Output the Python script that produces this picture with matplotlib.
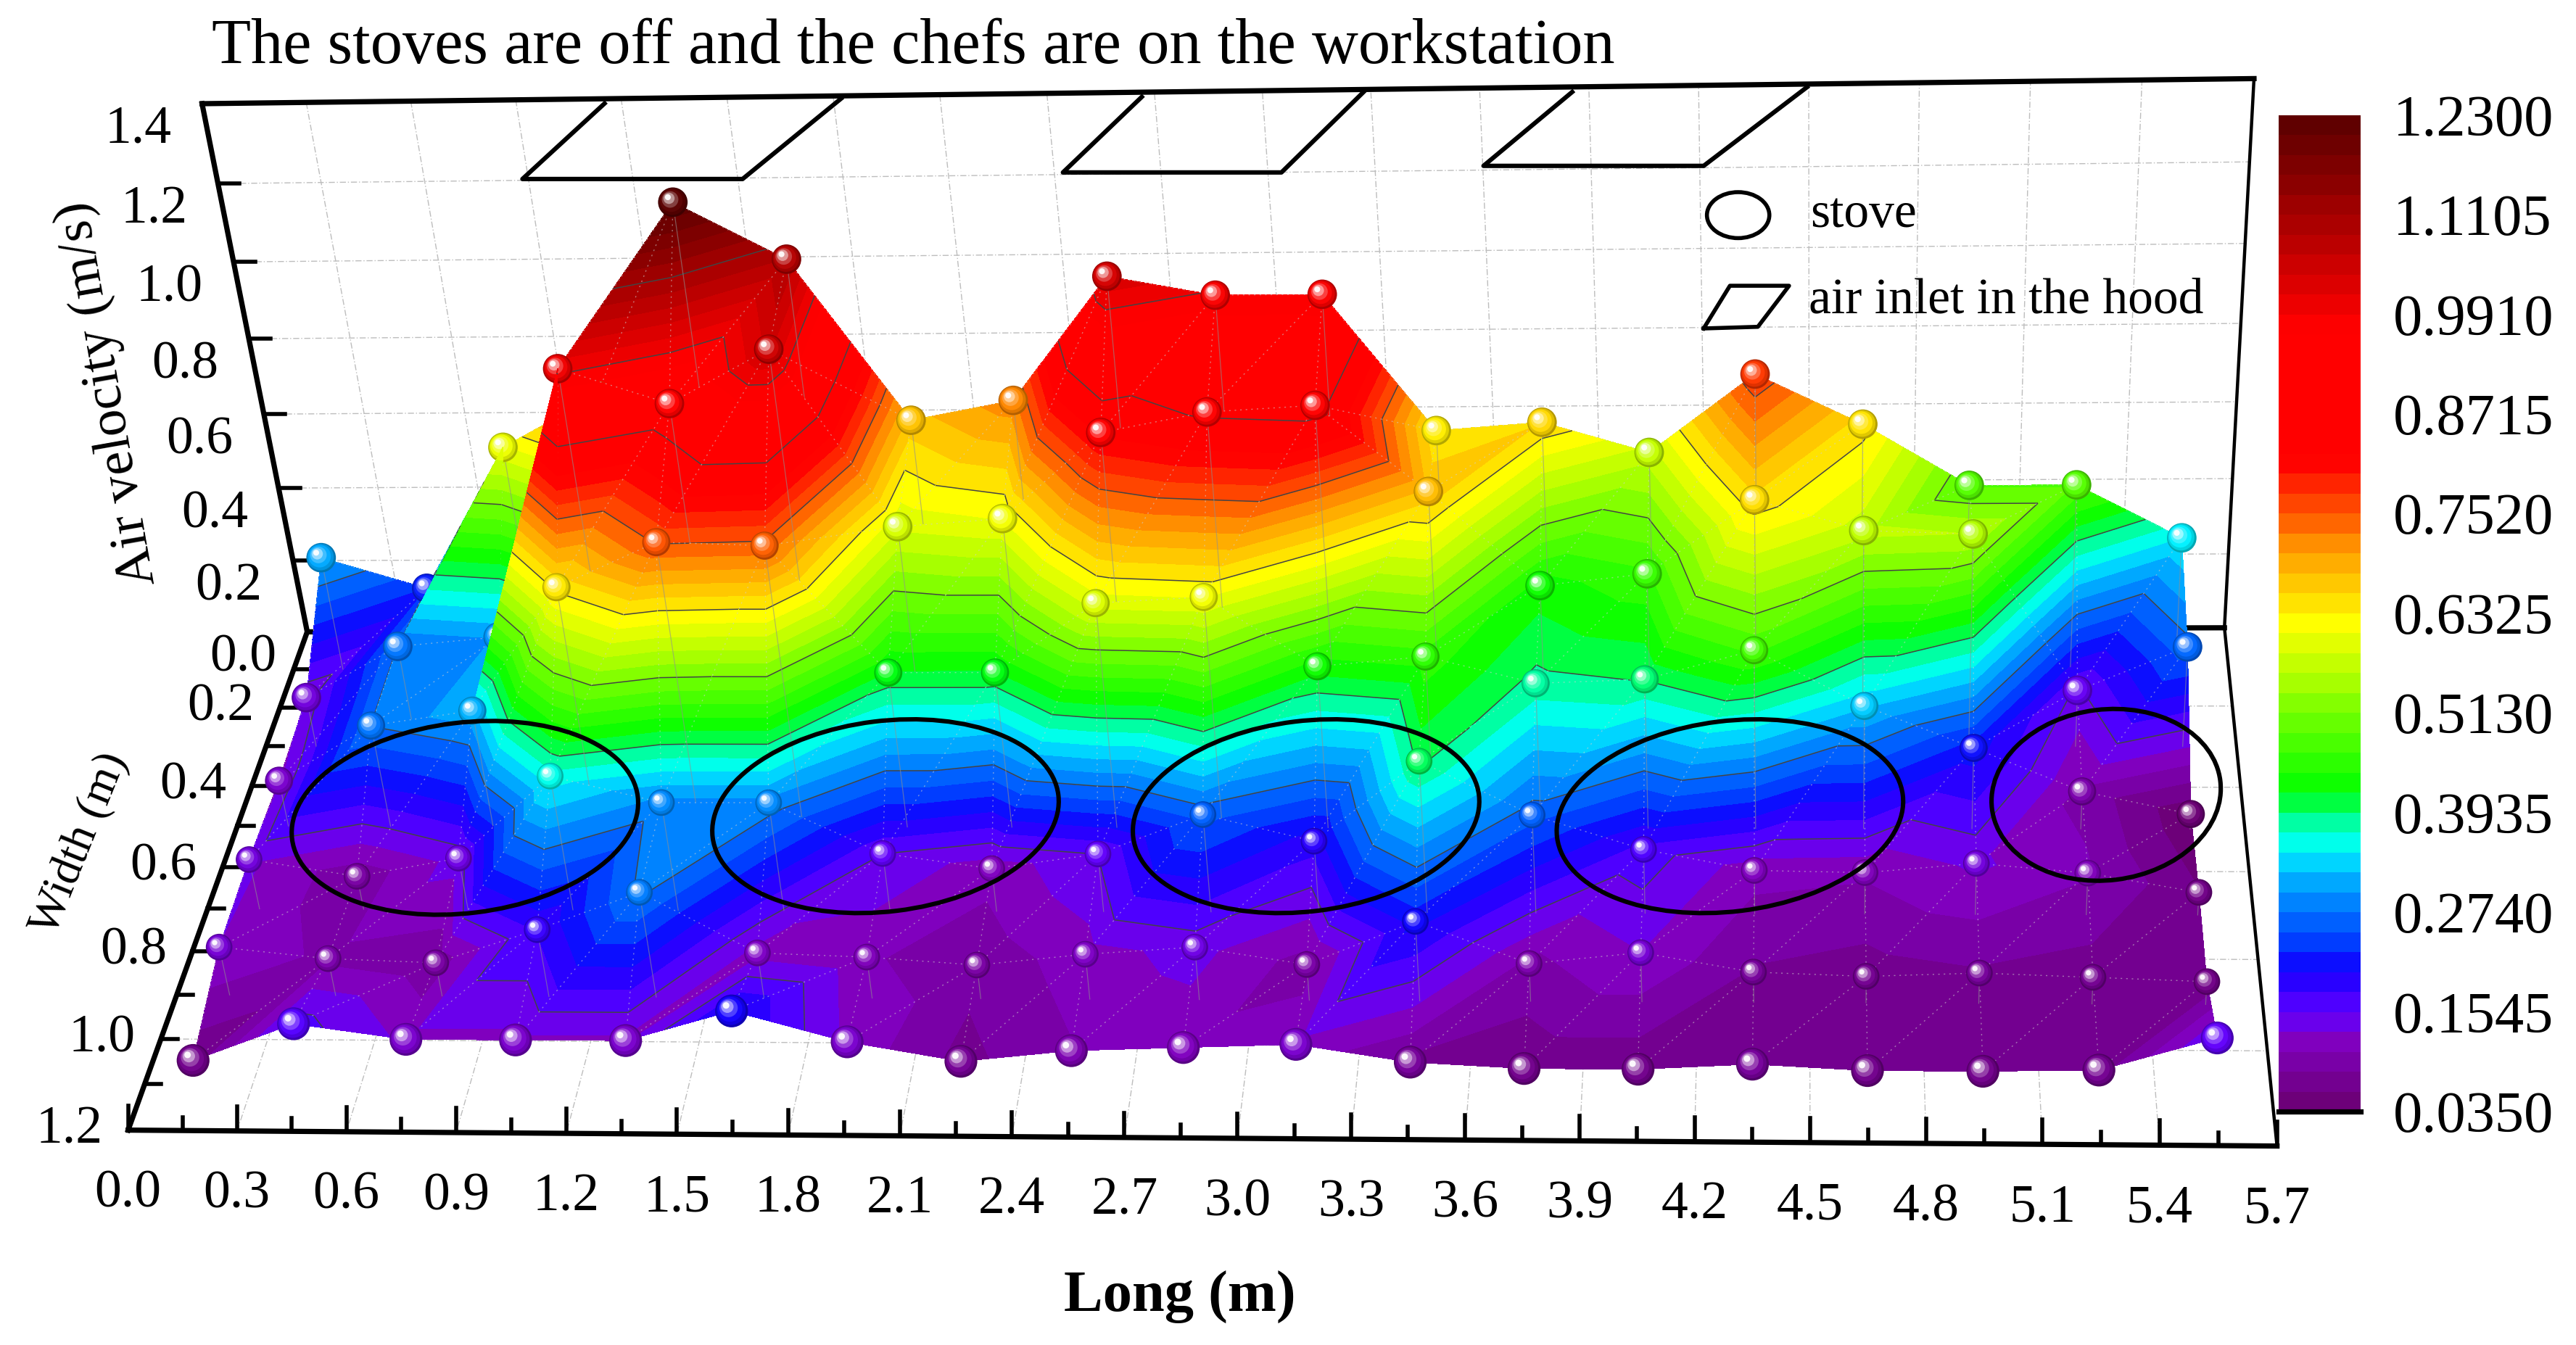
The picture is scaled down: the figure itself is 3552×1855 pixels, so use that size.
"""
Air velocity surface above the cooking line, stoves off, chefs at workstation.
Drawn in a 2D axes through a small camera projection (3D look of the original).
"""
import warnings
import numpy as np
import matplotlib
matplotlib.use("Agg")
import matplotlib.pyplot as plt
from matplotlib.colors import LinearSegmentedColormap, Normalize
from matplotlib.patches import Ellipse
from matplotlib.tri import Triangulation

plt.rcParams['font.family'] = ['Liberation Serif', 'DejaVu Serif']
warnings.filterwarnings("ignore")

# Measuring points
long_pos = [0.15, 0.45, 0.75, 1.05, 1.35, 1.65, 1.95, 2.25, 2.55, 2.85,
            3.15, 3.45, 3.75, 4.05, 4.35, 4.65, 4.95, 5.25, 5.55]
width_pos = [0.1, 0.3, 0.5, 0.7, 0.9, 1.1]

# Air velocity (m/s), one list per width row, back to front
row_w01 = [0.31, 0.225, 0.605, 0.74, 1.23, 1.085, 0.67, 0.72, 1.035, 0.985,
           0.985, 0.635, 0.655, 0.575, 0.775, 0.645, 0.485, 0.485, 0.345]
row_w03 = [0.135, 0.275, 0.30, 1.00, 0.91, 1.045, 0.59, 0.61, 0.83, 0.88,
           0.895, 0.675, 0.43, 0.46, 0.65, 0.57, 0.56, 0.15, 0.265]
row_w05 = [0.125, 0.275, 0.315, 0.64, 0.755, 0.745, 0.415, 0.415, 0.595, 0.61,
           0.43, 0.455, 0.385, 0.395, 0.47, 0.325, 0.215, 0.10, 0.04]
row_w07 = [0.135, 0.09, 0.14, 0.36, 0.29, 0.29, 0.155, 0.115, 0.155, 0.26,
           0.19, 0.40, 0.26, 0.17, 0.115, 0.11, 0.135, 0.11, 0.06]
row_w09 = [0.13, 0.10, 0.09, 0.18, 0.28, 0.12, 0.11, 0.09, 0.12, 0.14,
           0.095, 0.21, 0.10, 0.13, 0.08, 0.07, 0.08, 0.07, 0.06]
row_w11 = [0.065, 0.165, 0.125, 0.125, 0.125, 0.205, 0.125, 0.075, 0.105, 0.115,
           0.125, 0.08, 0.065, 0.065, 0.08, 0.065, 0.065, 0.07, 0.155]
velocity = np.array([row_w01, row_w03, row_w05, row_w07, row_w09, row_w11])

# Axes
long_ticks = [0.0, 0.3, 0.6, 0.9, 1.2, 1.5, 1.8, 2.1, 2.4, 2.7, 3.0, 3.3,
              3.6, 3.9, 4.2, 4.5, 4.8, 5.1, 5.4, 5.7]
width_ticks = [0.2, 0.4, 0.6, 0.8, 1.0, 1.2]
height_ticks = [0.0, 0.2, 0.4, 0.6, 0.8, 1.0, 1.2, 1.4]
cbar_ticks = [0.0350, 0.1545, 0.2740, 0.3935, 0.5130, 0.6325, 0.7520, 0.8715,
              0.9910, 1.1105, 1.2300]

# Annotations in picture coordinates
stove_x = [283, 539, 795, 1053, 1282]
stove_y = [498, 497, 497, 497, 484]
stove_w = [212, 212, 212, 212, 140]
stove_h = [116, 116, 116, 116, 104]
hood_x = [[368, 318, 452, 512], [695, 647, 780, 830], [957, 903, 1037, 1100]]
hood_y = [[63, 109, 109, 60], [59, 105, 105, 56], [56, 101, 101, 53]]

# Colours
cmap = LinearSegmentedColormap.from_list("rainbow_bands", [
    (0.0, "#6a0070"), (0.068, "#8000c0"), (0.10, "#6000ff"), (0.143, "#1000ff"),
    (0.17, "#0040ff"), (0.224, "#00a0ff"), (0.265, "#00ffff"), (0.30, "#00ff80"),
    (0.32, "#00ff00"), (0.49, "#ffff00"), (0.558, "#ffa000"), (0.653, "#ff0000"),
    (0.79, "#ff0000"), (0.884, "#b00000"), (1.0, "#5a0000")], N=256)
norm = Normalize(0.035, 1.23)
levels = np.linspace(0.035, 1.23, 51)

# Camera fitted on the corners of the box
box_world = [(0, 0, 0), (5.7, 0, 0), (0, 1.2, 0), (5.7, 1.2, 0), (0, 0, 1.4), (5.7, 0, 1.4)]
box_pix = [(187, 385), (1354, 382), (78, 688), (1386, 698), (123, 63), (1372, 48)]
A = []
b = []
for (X, Y, Z), (u, v) in zip(box_world, box_pix):
    A.append([X, Y, Z, 1, 0, 0, 0, 0, -u*X, -u*Y, -u*Z])
    A.append([0, 0, 0, 0, X, Y, Z, 1, -v*X, -v*Y, -v*Z])
    b += [u, v]
cam = np.append(np.linalg.lstsq(np.array(A, float), np.array(b, float), rcond=None)[0], 1).reshape(3, 4)


def project(lng, wid, z):
    lng, wid, z = np.broadcast_arrays(np.asarray(lng, float), np.asarray(wid, float), np.asarray(z, float))
    w = cam[2, 0]*lng + cam[2, 1]*wid + cam[2, 2]*z + cam[2, 3]
    u = (cam[0, 0]*lng + cam[0, 1]*wid + cam[0, 2]*z + cam[0, 3])/w
    v = (cam[1, 0]*lng + cam[1, 1]*wid + cam[1, 2]*z + cam[1, 3])/w
    return u, v


def line3d(p0, p1, **kw):
    u, v = project([p0[0], p1[0]], [p0[1], p1[1]], [p0[2], p1[2]])
    ax.plot(u, v, solid_capstyle='projecting', **kw)


fig = plt.figure(figsize=(17.76, 9.275), dpi=200)
ax = fig.add_axes([0, 0, 1, 1])
ax.set_xlim(0, 1568)
ax.set_ylim(819, 0)
ax.axis('off')

# Grid on back wall and floor
grid_kw = dict(color='#bdbdbd', lw=0.5, ls=(0, (6, 2, 1, 2)), zorder=1)
for t in long_ticks:
    line3d((t, 0, 0), (t, 0, 1.4), **grid_kw)
    line3d((t, 0, 0), (t, 1.2, 0), **grid_kw)
for t in height_ticks[1:-1]:
    line3d((0, 0, t), (5.7, 0, t), **grid_kw)
for t in width_ticks[:-1]:
    line3d((0, t, 0), (5.7, t, 0), **grid_kw)

# Box edges
thick = dict(color='black', lw=2.6, zorder=2)
thin = dict(color='black', lw=1.6, zorder=2)
line3d((0, 0, 0), (0, 0, 1.4), **thick)
line3d((0, 0, 1.4), (5.7, 0, 1.4), **thick)
line3d((0, 0, 0), (0, 1.2, 0), **thick)
line3d((0, 1.2, 0), (5.7, 1.2, 0), **thick)
line3d((0, 0, 0), (5.7, 0, 0), **thick)
line3d((5.7, 0, 0), (5.7, 0, 1.4), **thin)
line3d((5.7, 0, 0), (5.7, 1.2, 0), **thin)

# Ticks and labels
for t in height_ticks:
    u, v = project(0, 0, t)
    ax.plot([u, u + 13], [v, v], color='black', lw=2, zorder=2)
    ax.text(u - 39, v + 16, f"{t:.1f}", ha='center', va='center', fontsize=26.5)
for t in np.arange(1, 13)/10:
    u, v = project(0, t, 0)
    ax.plot([u, u + 10], [v, v], color='black', lw=2, zorder=2)
for t in width_ticks:
    u, v = project(0, t, 0)
    ax.text(u - 36, v, f"{t:.1f}", ha='center', va='center', fontsize=26.5)
for t in np.arange(0, 39)*0.15:
    u, v = project(t, 1.2, 0)
    major = int(round(t/0.15)) % 2 == 0
    ax.plot([u, u], [v, v - (15 if major else 8)], color='black', lw=2, zorder=2)
for t in long_ticks:
    u, v = project(t, 1.2, 0)
    ax.text(u, v + 39, f"{t:.1f}", ha='center', va='center', fontsize=26.5)

ax.text(556, 29, "The stoves are off and the chefs are on the workstation",
        ha='center', va='center', fontsize=31.8)
ax.text(66, 240, "Air velocity (m/s)", ha='center', va='center', rotation=100, fontsize=27)
ax.text(49, 514, "Width (m)", ha='center', va='center', rotation=68, fontsize=23)
ax.text(718, 790, "Long (m)", ha='center', va='center', fontsize=29, weight='bold')

# Hood inlets
for hx, hy in zip(hood_x, hood_y):
    ax.plot(hx, hy, color='black', lw=2.2, zorder=2)


def draw_balls(row, size, stems=True):
    u, v = project(long_pos, width_pos[row], velocity[row])
    if stems:
        u0, v0 = project(long_pos, width_pos[row], 0)
        for k in range(len(u)):
            ax.plot([u[k], u0[k]], [v[k], v0[k]], color='#909090', lw=0.45, alpha=0.6, zorder=4)
    base = cmap(norm(velocity[row]))[:, :3]
    r = np.sqrt(size)/2*200/72/2.265
    for frac, mix in [(1.0, -0.3), (0.9, -0.12), (0.76, 0.02), (0.56, 0.25), (0.38, 0.6), (0.2, 0.97)]:
        if mix < 0:
            col = base*(1 + mix)
        else:
            col = base + (1 - base)*mix
        off = (1 - frac)*r*0.42
        ax.scatter(u - off, v - off, s=size*frac**2, c=col, linewidths=0, zorder=4)


def draw_tri(idx, u, v, vals):
    tri = Triangulation(u[idx], v[idx], [[0, 1, 2]])
    ax.tricontourf(tri, vals[idx], levels=levels, cmap=cmap, norm=norm, antialiased=False, zorder=4)
    lv = [c for c in cbar_ticks[1:-1] if vals[idx].min() < c < vals[idx].max()]
    if lv:
        ax.tricontour(tri, vals[idx], levels=lv, colors='#444444', linewidths=0.55, zorder=4)


def covers(idx, u, v, px, py):
    # is the point inside the screen triangle (a little margin)
    x0, x1, x2 = u[idx]
    y0, y1, y2 = v[idx]
    den = (y1 - y2)*(x0 - x2) + (x2 - x1)*(y0 - y2)
    if abs(den) < 1e-6:
        return False
    l0 = ((y1 - y2)*(px - x2) + (x2 - x1)*(py - y2))/den
    l1 = ((y2 - y0)*(px - x2) + (x0 - x2)*(py - y2))/den
    return min(l0, l1, 1 - l0 - l1) > -0.04


# Surface, painted from the back wall to the front
nrow, ncol = velocity.shape
lg, wd = np.meshgrid(long_pos, width_pos)
U, V = project(lg, wd, velocity)
U, V, F = U.ravel(), V.ravel(), velocity.ravel()
ball_size = [215, 215, 195, 175, 175, 265]
for i in range(nrow - 1):
    tris = []
    for j in range(ncol - 1):
        a = i*ncol + j
        c = a + 1
        d = a + ncol
        e = d + 1
        tris.append(np.array([a, c, d]))
        tris.append(np.array([c, e, d]))
        draw_tri(tris[-2], U, V, F)
        draw_tri(tris[-1], U, V, F)
        # dotted mesh between the points
        for p, q in [(a, c), (a, d), (c, d)]:
            ax.plot(U[[p, q]], V[[p, q]], color='#d0d0d0', lw=0.5, ls=(0, (1.5, 4)), alpha=0.55, zorder=4)
    draw_balls(i, ball_size[i])
    # folds of the surface that hide a ball of this row
    for tr in tris:
        for k in range(i*ncol, (i + 1)*ncol):
            if k not in tr and covers(tr, U, V, U[k], V[k]):
                draw_tri(tr, U, V, F)
                break
draw_balls(nrow - 1, ball_size[nrow - 1], stems=False)

# Stove rings
for sx, sy, sw, sh in zip(stove_x, stove_y, stove_w, stove_h):
    ax.add_patch(Ellipse((sx, sy), sw, sh, angle=-7, fill=False, ec='black', lw=2.2, zorder=6))

# Legend
ax.add_patch(Ellipse((1058, 131), 38, 28, fill=False, ec='black', lw=2, zorder=6))
ax.text(1102, 131, "stove", ha='left', va='center', fontsize=25)
ax.plot([1037, 1070, 1089, 1053, 1037], [200, 199, 174, 174, 200], color='black', lw=2, zorder=6)
ax.text(1101, 183, "air inlet in the hood", ha='left', va='center', fontsize=25)

# Colour bar
cax = fig.add_axes([1387/1568, 1 - 677/819, 50/1568, (677 - 70)/819])
cax.pcolormesh([0, 1], levels, (levels[:-1] + levels[1:]).reshape(-1, 1)/2, cmap=cmap, norm=norm)
for side in ['top', 'left', 'right']:
    cax.spines[side].set_visible(False)
cax.spines['bottom'].set_linewidth(2.6)
cax.set_xticks([])
cax.yaxis.tick_right()
cax.set_yticks(cbar_ticks)
cax.set_yticklabels([f"{c:.4f}" for c in cbar_ticks], fontsize=29)
cax.tick_params(axis='y', length=0, pad=16)
cax.set_ylim(0.035, 1.23)

fig.savefig("out.png", dpi=200)
